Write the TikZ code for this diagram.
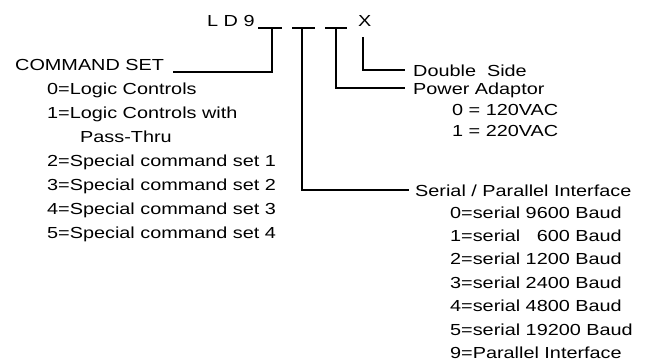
\documentclass[tikz,border=0pt]{standalone}
\usepackage{fontspec}
\setmainfont{Liberation Sans}[FakeStretch=1.24]
\usepackage{tikz}
\usetikzlibrary{calc}
\tikzset{
    % text of the code chart
    codetext/.style={
        anchor=base west,
        inner sep=0pt,
        text height=11.5pt,
        text depth=0pt,
        font=\fontsize{16}{24}\selectfont
    },
    % the blanks after LD9
    blank/.style={
        line width=1.6pt,
        black
    },
    % leaders from blank to text
    leader/.style={
        line width=2.2pt,
        black
    }
}

\begin{document}
\begin{tikzpicture}[x=1pt,y=-1pt]
\useasboundingbox (0,0) rectangle (647,362);

% part number
\node[codetext] (ld) at (207,26) {L D 9};
\node[codetext] (xx) at (358,26) {X};

\path
(258,28) coordinate (b1l) (282,28) coordinate (b1r) (272,28) coordinate (b1)
(292,28) coordinate (b2l) (315,28) coordinate (b2r) (302,28) coordinate (b2)
(325,28) coordinate (b3l) (347,28) coordinate (b3r) (336,28) coordinate (b3)
(363,37) coordinate (b4)
(173,72) coordinate (c1)
;
\draw[blank] (b1l) -- (b1r) (b2l) -- (b2r) (b3l) -- (b3r);

% command set
\node[codetext] (cmd) at (15,70) {COMMAND SET};
\node[codetext] (cmd0) at (47,94) {0=Logic Controls};
\node[codetext] (cmd1) at (47,118) {1=Logic Controls with};
\node[codetext] (cmdp) at (80,142) {Pass-Thru};
\node[codetext] (cmd2) at (47,166) {2=Special command set 1};
\node[codetext] (cmd3) at (47,190) {3=Special command set 2};
\node[codetext] (cmd4) at (47,214) {4=Special command set 3};
\node[codetext] (cmd5) at (47,238) {5=Special command set 4};

% double side
\node[codetext] (dbl) at (413,76) {Double\ \ Side};

% power adaptor
\node[codetext] (pwr) at (413,94) {Power Adaptor};
\node[codetext] (pwr0) at (452,115) {0 = 120VAC};
\node[codetext] (pwr1) at (452,136) {1 = 220VAC};

% serial / parallel
\node[codetext] (ser) at (415,196) {Serial / Parallel Interface};
\node[codetext] (ser0) at (450,218) {0=serial 9600 Baud};
\node[codetext] (ser1) at (450,241.4) {1=serial \phantom{9}600 Baud};
\node[codetext] (ser2) at (450,264.8) {2=serial 1200 Baud};
\node[codetext] (ser3) at (450,288.2) {3=serial 2400 Baud};
\node[codetext] (ser4) at (450,311.6) {4=serial 4800 Baud};
\node[codetext] (ser5) at (450,335) {5=serial 19200 Baud};
\node[codetext] (ser9) at (450,358.4) {9=Parallel Interface};

% leaders
\draw[leader] (b1) |- (c1);
\draw[leader] (b2) |- ([xshift=-6pt]ser.west);
\draw[leader] (b3) |- ([xshift=-8pt]pwr.west);
\draw[leader] (b4) |- ([xshift=-8pt]dbl.west);

\end{tikzpicture}
\end{document}
